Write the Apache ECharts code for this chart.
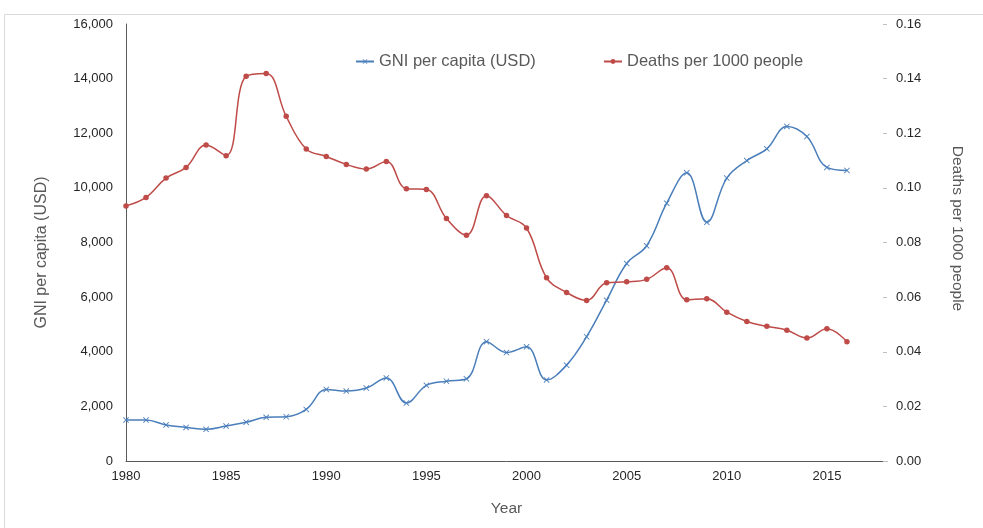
<!DOCTYPE html>
<html>
<head>
<meta charset="utf-8">
<script src="https://cdn.jsdelivr.net/npm/echarts@6/dist/echarts.min.js"></script>
<style>
  html, body { margin: 0; padding: 0; background: #fff; }
  #chart { width: 983px; height: 528px; }
</style>
</head>
<body>
<div id="chart"></div>
<script>
// Years 1980–2016
const years = [1980,1981,1982,1983,1984,1985,1986,1987,1988,1989,
               1990,1991,1992,1993,1994,1995,1996,1997,1998,1999,
               2000,2001,2002,2003,2004,2005,2006,2007,2008,2009,
               2010,2011,2012,2013,2014,2015,2016];

// GNI per capita (USD)
const gniPerCapita = [1500,1500,1320,1230,1160,1280,1420,1600,1620,1890,
                      2620,2560,2670,3040,2120,2770,2920,3010,4370,3970,
                      4180,2970,3510,4550,5890,7230,7880,9440,10550,8740,
                      10360,11000,11430,12250,11880,10750,10640];

// Deaths per 1000 people
const deathsPer1000 = [0.0934,0.0965,0.1036,0.1075,0.1157,0.1118,0.1409,0.1419,0.1262,0.1142,
                       0.1115,0.1086,0.1069,0.1097,0.0997,0.0994,0.0888,0.0827,0.0971,0.0899,
                       0.0853,0.0671,0.0617,0.0588,0.0653,0.0656,0.0665,0.0708,0.0590,0.0594,
                       0.0545,0.0511,0.0493,0.0479,0.0450,0.0484,0.0437];

const seriesNames = ['GNI per capita (USD)', 'Deaths per 1000 people'];

const crossSymbol = 'path://M0,1L1,0L5,4L9,0L10,1L6,5L10,9L9,10L5,6L1,10L0,9L4,5Z';
const blue = '#4A7EBB';
const red = '#BE4B48';
const fontFamily = 'Liberation Sans, Arial, sans-serif';
const labelFont = { fontFamily, fontSize: 13, color: '#262626' };

const legendBase = {
  top: 48,
  itemWidth: 18,
  itemHeight: 6,
  textStyle: { fontFamily, fontSize: 16.5, color: '#595959' }
};

const chart = echarts.init(document.getElementById('chart'), null, { renderer: 'canvas' });

chart.setOption({
  animation: false,
  backgroundColor: '#fff',
  graphic: [{
    type: 'polyline',
    shape: { points: [[4.5, 528], [4.5, 14.5], [983, 14.5]] },
    style: { stroke: '#D9D9D9', lineWidth: 1, fill: null },
    silent: true
  }],
  legend: [
    Object.assign({ left: 350, data: [seriesNames[0]] }, legendBase),
    Object.assign({ left: 598, data: [seriesNames[1]] }, legendBase)
  ],
  grid: { left: 126, right: 96, top: 24, bottom: 67, containLabel: false },
  xAxis: {
    type: 'value',
    min: 1980,
    max: 2018,
    interval: 5,
    name: 'Year',
    nameLocation: 'middle',
    nameGap: 40,
    nameTextStyle: { fontFamily, fontSize: 15.5, color: '#595959' },
    axisLine: { show: true, lineStyle: { color: '#595959', width: 1 } },
    axisTick: { show: false },
    splitLine: { show: false },
    axisLabel: Object.assign({ margin: 9, showMaxLabel: false,
      formatter: v => (v % 5 === 0 ? String(v) : '') }, labelFont)
  },
  yAxis: [{
    type: 'value',
    min: 0,
    max: 16000,
    interval: 2000,
    name: seriesNames[0],
    nameLocation: 'middle',
    nameGap: 76,
    nameRotate: 90,
    nameTextStyle: { fontFamily, fontSize: 16, color: '#595959', padding: [0, 20, 0, 0] },
    axisLine: { show: true, lineStyle: { color: '#595959', width: 1 } },
    axisTick: { show: false },
    splitLine: { show: false },
    axisLabel: Object.assign({ margin: 13,
      formatter: v => v.toLocaleString('en-US') }, labelFont)
  }, {
    type: 'value',
    position: 'right',
    min: 0,
    max: 0.16,
    interval: 0.02,
    name: seriesNames[1],
    nameLocation: 'middle',
    nameGap: 62,
    nameRotate: -90,
    nameTextStyle: { fontFamily, fontSize: 15.5, color: '#595959', padding: [0, 28, 0, 0] },
    axisLine: { show: false },
    axisTick: { show: true, inside: true, length: 4, lineStyle: { color: '#BFBFBF' } },
    splitLine: { show: false },
    axisLabel: Object.assign({ margin: 9,
      formatter: v => v.toFixed(2) }, labelFont)
  }],
  series: [{
    name: seriesNames[0],
    type: 'line',
    yAxisIndex: 0,
    smooth: 0.4,
    data: years.map((y, i) => [y, gniPerCapita[i]]),
    symbol: crossSymbol,
    symbolSize: 6,
    showSymbol: true,
    lineStyle: { color: blue, width: 1.5 },
    itemStyle: { color: blue }
  }, {
    name: seriesNames[1],
    type: 'line',
    yAxisIndex: 1,
    smooth: 0.4,
    data: years.map((y, i) => [y, deathsPer1000[i]]),
    symbol: 'circle',
    symbolSize: 5.5,
    showSymbol: true,
    lineStyle: { color: red, width: 1.5 },
    itemStyle: { color: red }
  }]
});
</script>
</body>
</html>
